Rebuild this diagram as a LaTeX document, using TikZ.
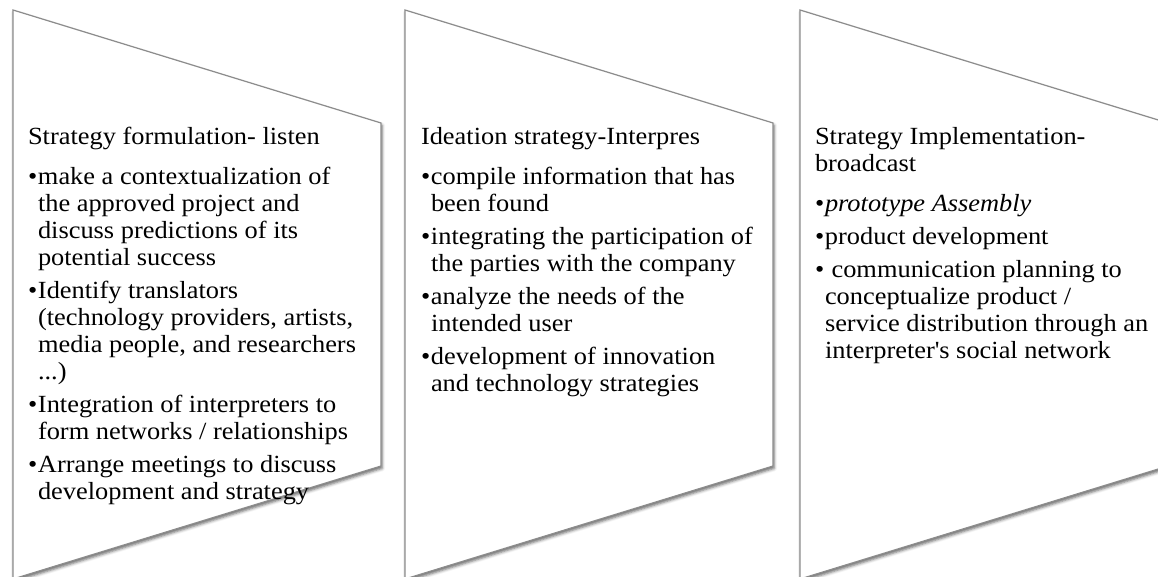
\documentclass[tikz,border=0pt]{standalone}
\usepackage{fontspec}
\setmainfont{Liberation Serif}[FakeStretch=1.07]
\usetikzlibrary{shadows.blur}

% spacing inside the text blocks
\newlength\titlegap \setlength\titlegap{9.75pt}
\newlength\itemgap  \setlength\itemgap{4.5pt}
\newlength\bulwd    \setlength\bulwd{7.5pt}
\newcommand\headline[1]{\noindent #1\par\vspace{\titlegap}}
\newcommand\bul[1]{\par\noindent\hangindent=\bulwd\hangafter=1\makebox[\bulwd][l]{\textbullet}#1\par\vspace{\itemgap}}
\newcommand\stagetext[1]{\parbox[t]{300pt}{\parskip=0pt\lineskiplimit=-10pt #1}}

\begin{document}
\begin{tikzpicture}[x=0.75pt,y=-0.75pt,
  stagebox/.style={draw=black!45, line width=0.9pt, fill=white,
    blur shadow={shadow xshift=0.8pt, shadow yshift=-1.8pt,
                 shadow blur radius=2.2pt, shadow opacity=60}},
  stagetxt/.style={anchor=base west, inner sep=0pt, outer sep=0pt,
    font=\fontsize{18.5}{20.25}\selectfont, text=black}]
\useasboundingbox (0,0) rectangle (1158,577);
\clip (0,0) rectangle (1158,577);

% three slanted stage panels, each 368 wide
\foreach \L/\n in {13/a, 405/b, 800/c}{
  \coordinate (\n tl) at (\L,10);
  \coordinate (\n tr) at (\L+368,123);
  \coordinate (\n br) at (\L+368,466);
  \coordinate (\n bl) at (\L,579);
  \path[stagebox] (\n tl) -- (\n tr) -- (\n br) -- (\n bl) -- cycle;
}

% panel texts
\node[stagetxt] (ta) at (28,145) {\stagetext{%
  \headline{Strategy formulation- listen}%
  \bul{make a contextualization of\\the approved project and\\discuss predictions of its\\potential success}%
  \bul{Identify translators\\(technology providers, artists,\\media people, and researchers\\...)}%
  \bul{Integration of interpreters to\\form networks / relationships}%
  \bul{Arrange meetings to discuss\\development and strategy}}};

\node[stagetxt] (tb) at (421,145) {\stagetext{%
  \headline{Ideation strategy-Interpres}%
  \bul{compile information that has\\been found}%
  \bul{integrating the participation of\\the parties with the company}%
  \bul{analyze the needs of the\\intended user}%
  \bul{development of innovation\\and technology strategies}}};

\node[stagetxt] (tc) at (815,145) {\stagetext{%
  \headline{Strategy Implementation-\\broadcast}%
  \bul{\textit{prototype Assembly}}%
  \bul{product development}%
  \bul{\ communication planning to\\conceptualize product /\\service distribution through an\\interpreter\textquotesingle s social network}}};
\end{tikzpicture}
\end{document}
